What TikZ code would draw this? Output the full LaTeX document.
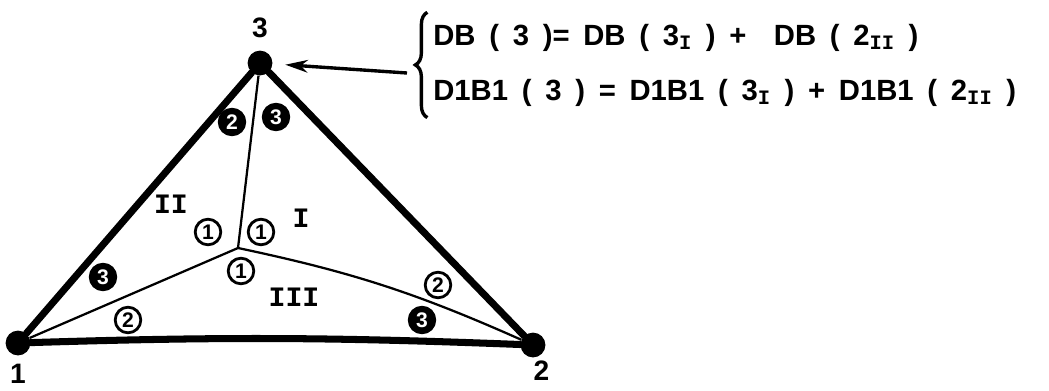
\documentclass[tikz,border=0pt]{standalone}
\usepackage{fontspec}
\newfontfamily\handfont{Liberation Sans}
\newfontfamily\romfont{Liberation Mono}
\usepackage{tikz}
\usetikzlibrary{arrows.meta, positioning, decorations.pathreplacing}
\newcommand{\fgap}{\hspace{0.47em}}
\newcommand{\rsub}[1]{\textsubscript{\romfont\bfseries #1}}

\begin{document}
\begin{tikzpicture}[
    x=0.025cm, y=-0.025cm,
    vertex/.style={circle, fill=black, inner sep=0pt, minimum size=0.62cm},
    vlabel/.style={inner sep=0pt, font=\handfont\bfseries\fontsize{20}{20}\selectfont},
    elnum/.style={
      circle, draw, line width=2pt, inner sep=0pt, minimum size=0.64cm,
      font=\handfont\bfseries\fontsize{15}{15}\selectfont
    },
    elnumdark/.style={elnum, fill=black, text=white},
    region/.style={inner sep=0pt, font=\romfont\bfseries\fontsize{20}{20}\selectfont},
    formula/.style={inner sep=0pt, anchor=base west, font=\handfont\bfseries\fontsize{20.8}{20.8}\selectfont},
    outerline/.style={line width=5pt, line cap=round},
    innerline/.style={line width=1.6pt},
    arr/.style={-{Stealth[length=16pt, width=9pt]}, line width=2.4pt},
    brc/.style={decorate, decoration={brace, amplitude=0.3cm}, line width=2.4pt},
  ]
  \useasboundingbox (0,0) rectangle (1049,390);

  % triangle corners
  \node[vertex] (v1) at (18,343) {};
  \node[vertex] (v2) at (533,345) {};
  \node[vertex] (v3) at (260,63) {};
  \coordinate (ctr) at (238,248);

  \node[vlabel, above=0.3cm of v3] (l3) {3};
  \node[vlabel, below=0.2cm of v1] (l1) {1};
  \node[vlabel, below=0.08cm of v2, xshift=6pt] (l2) {2};

  % sub-triangles
  \node[region] (rI) at (301,218) {I};
  \node[region] (rII) at (171,204) {II};
  \node[region] (rIII) at (294,297) {III};

  % local corner numbers
  \node[elnumdark] (nIIb) at (232,122) {2};
  \node[elnumdark] (nIc) at (276,117) {3};
  \node[elnum] (nIIa) at (208,232) {1};
  \node[elnum] (nIa) at (261,232) {1};
  \node[elnum] (nIIIa) at (241,271) {1};
  \node[elnumdark] (nIIc) at (103,277) {3};
  \node[elnum] (nIIIb) at (128,320) {2};
  \node[elnum] (nIb) at (438,285) {2};
  \node[elnumdark] (nIIIc) at (422,320) {3};

  \draw[outerline] (v1) -- (v3);
  \draw[outerline] (v3) -- (v2);
  \draw[outerline] (v1) to[bend left=2] (v2);
  \draw[innerline] (ctr) -- (v3);
  \draw[innerline] (ctr) -- (v1);
  \draw[innerline] (ctr) to[bend left=6] (v2);

  % assembly of node 3
  \node[formula] (eq1) at (433,45)
    {DB\fgap(\fgap3\fgap)=\fgap DB\fgap(\fgap3\rsub{I}\fgap)\fgap+\fgap\fgap DB\fgap(\fgap2\rsub{II}\fgap)};
  \node[formula] (eq2) at (433,100)
    {D1B1\fgap(\fgap3\fgap)\fgap=\fgap D1B1\fgap(\fgap3\rsub{I}\fgap)\fgap+\fgap D1B1\fgap(\fgap2\rsub{II}\fgap)};
  \draw[brc] ([xshift=-4pt, yshift=-8pt]eq2.south west) -- ([xshift=-4pt, yshift=8pt]eq1.north west);

  \coordinate (tail) at (407,73);
  \draw[arr, shorten >=9pt] (tail) -- (v3);
\end{tikzpicture}
\end{document}
